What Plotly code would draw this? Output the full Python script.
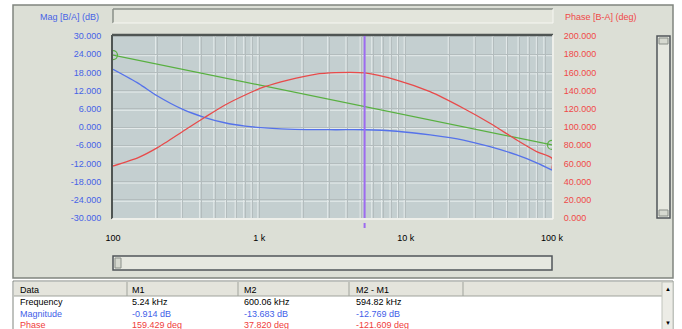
import math
import plotly.graph_objects as go

# ---------------- data ----------------
freq_mag = [100, 150, 200, 300, 420, 580, 800, 1150, 1750, 3300, 5240, 8700,
            14700, 24800, 37700, 57400, 78600, 100000]
mag_db = [19.0, 14.3, 10.3, 5.8, 3.2, 1.4, 0.3, -0.4, -0.8, -0.9, -0.914, -1.4,
          -2.6, -4.3, -6.5, -9.2, -11.8, -14.2]

freq_phase = [100, 150, 200, 310, 425, 583, 800, 1090, 1570, 2400, 3290, 5240,
              8690, 14660, 24770, 37700, 57400, 78600, 100000, 100000]
phase_deg = [57.1, 66.6, 77.0, 96.7, 110.7, 124.2, 135.2, 144.3, 151.6, 157.9,
             159.7, 159.4, 151.6, 138.8, 120.6, 104.1, 85.7, 72.9, 65.6, 54.0]

freq_ref = [100, 100000]
ref_db = [23.7, -5.9]

cursor_freq = 5240

mag_ticks = [-30, -24, -18, -12, -6, 0, 6, 12, 18, 24, 30]
phase_ticks = [0, 20, 40, 60, 80, 100, 120, 140, 160, 180, 200]
freq_ticks = [100, 1000, 10000, 100000]
freq_ticktext = ["100", "1 k", "10 k", "100 k"]

table_header = ["Data", "M1", "M2", "M2 - M1"]
table_rows = [
    ["Frequency", "5.24 kHz", "600.06 kHz", "594.82 kHz"],
    ["Magnitude", "-0.914 dB", "-13.683 dB", "-12.769 dB"],
    ["Phase", "159.429 deg", "37.820 deg", "-121.609 deg"],
]

# ---------------- styling ----------------
W, H = 682, 329
PL, PR, PT, PB = 113, 552, 36, 218
FONT = "Liberation Sans, Arial, sans-serif"
BLUE_TXT = "#4763e6"
RED_TXT = "#f04848"
PANEL = "#dcdfd6"
PLOTBG = "#c4cfd0"
GRID_DARK = "#b3bcbd"
GRID_LIGHT = "#e4eaea"


def X(p):
    return (p - PL) / (PR - PL)


def Y(p):
    return (PB - p) / (PB - PT)


minor_vals = [m * 10 ** d for d in range(2, 5) for m in range(2, 10)]

fig = go.Figure()
fig.add_trace(go.Scatter(x=freq_phase, y=phase_deg, yaxis="y2", mode="lines",
                         line=dict(color="#e84a4a", width=1.3, shape="spline", smoothing=0.7),
                         showlegend=False))
fig.add_trace(go.Scatter(x=freq_mag, y=mag_db, mode="lines",
                         line=dict(color="#5572ea", width=1.3, shape="spline", smoothing=0.7),
                         showlegend=False))
fig.add_trace(go.Scatter(x=freq_ref, y=ref_db, mode="lines+markers",
                         line=dict(color="#58b040", width=1.3),
                         marker=dict(symbol="circle-open", size=9, color="#58b040",
                                     line=dict(width=1.2)),
                         showlegend=False))

shapes = []


def rect(x0, y0, x1, y1, fill, line=None, lw=1):
    shapes.append(dict(type="rect", xref="paper", yref="paper", layer="below",
                       x0=X(x0), x1=X(x1), y0=Y(y1), y1=Y(y0), fillcolor=fill,
                       line=dict(color=line or fill, width=lw if line else 0)))


def hline(x0, x1, y, color, lw=1, layer="below"):
    shapes.append(dict(type="line", xref="paper", yref="paper", layer=layer,
                       x0=X(x0), x1=X(x1), y0=Y(y), y1=Y(y), line=dict(color=color, width=lw)))


def vline(x, y0, y1, color, lw=1, layer="below"):
    shapes.append(dict(type="line", xref="paper", yref="paper", layer=layer,
                       x0=X(x), x1=X(x), y0=Y(y0), y1=Y(y1), line=dict(color=color, width=lw)))


# outer panel
rect(13, 5, 673, 278, PANEL, "#80857f", 1.5)
# plot background
rect(PL, PT, PR, PB, PLOTBG)
# light companion lines of the grooved grid (1 px beside each dark grid line)
for v in freq_ticks[1:-1] + minor_vals:
    px = PL + (math.log10(v) - 2) / 3 * (PR - PL)
    vline(px - 1.5, PT, PB, GRID_LIGHT, 1)
for v in mag_ticks[1:-1]:
    py = PB - (v + 30) / 60 * (PB - PT)
    hline(PL, PR, py + 1.5, GRID_LIGHT, 1)
# inset border of plot
hline(PL - 1, PR + 1, PT - 1, "#4f5553", 2.5)
vline(PL - 1, PT - 1, PB + 1, "#4f5553", 2)
hline(PL - 1, PR + 1, PB + 1, "#f4f5f0", 1.5)
vline(PR + 1, PT - 1, PB + 1, "#f4f5f0", 1.5)
# top text box
rect(113, 9, 553, 23, "#e3e5dc")
hline(113, 553, 9, "#8a8f89", 1.5)
vline(113, 9, 23, "#8a8f89", 1.5)
hline(113, 553, 23, "#f6f7f2", 1)
vline(553, 9, 23, "#f6f7f2", 1)
# right vertical scrollbar
rect(657, 36, 670, 218, "#e6e8e0", "#50565a", 1.5)
rect(659, 38, 668, 44, "#d6d9d0", "#8a8f89", 1)
rect(659, 210, 668, 216, "#d6d9d0", "#8a8f89", 1)
# horizontal scrollbar
rect(113, 256, 552, 270, "#e6e8e0", "#50565a", 1.5)
rect(115, 258, 121, 268, "#d6d9d0", "#8a8f89", 1)
# table
rect(13, 281, 673, 330, "#ffffff", "#80857f", 1)
rect(14, 282, 662, 296, "#e4e4dc")
hline(14, 662, 296, "#a0a39c", 1)
for cx in [127, 238, 349, 463]:
    vline(cx, 282, 296, "#a0a39c", 1)
rect(662, 282, 673, 330, "#ecece6", "#c0c3bc", 1)
# cursor
shapes.append(dict(type="line", xref="x", yref="paper", x0=cursor_freq, x1=cursor_freq,
                   y0=0, y1=1, layer="above", line=dict(color="#9d6bf0", width=2)))
shapes.append(dict(type="line", xref="x", yref="paper", x0=cursor_freq, x1=cursor_freq,
                   y0=Y(223), y1=Y(228), layer="above", line=dict(color="#9d6bf0", width=2)))

ann = []


def text(x, y, s, color="#000000", anchor="left", size=9):
    ann.append(dict(xref="paper", yref="paper", x=X(x), y=Y(y), text=s, showarrow=False,
                    xanchor=anchor, yanchor="middle", font=dict(family=FONT, size=size, color=color)))


text(101, 17, "Mag [B/A] (dB)", BLUE_TXT, "right")
text(563, 17, "Phase [B-A] (deg)", RED_TXT, "left")

col_x = [18, 130, 242, 354]
for cx, h in zip(col_x, table_header):
    text(cx, 289.5, h)
row_colors = ["#000000", "#3f5ee8", "#f03c3c"]
for ry, row, rc in zip([301.5, 313.5, 325], table_rows, row_colors):
    for cx, s in zip(col_x, row):
        text(cx, ry, s, rc)
text(667.5, 289, "▲", "#000000", "center", 6)
text(667.5, 323, "▼", "#000000", "center", 6)

fig.update_layout(
    width=W, height=H,
    margin=dict(l=PL, r=W - PR, t=PT, b=H - PB, pad=0),
    paper_bgcolor="#ffffff", plot_bgcolor="rgba(0,0,0,0)",
    shapes=shapes, annotations=ann,
    xaxis=dict(type="log", range=[2, 5], tickvals=freq_ticks, ticktext=freq_ticktext,
               showgrid=True, gridcolor=GRID_DARK, gridwidth=1, zeroline=False,
               ticks="outside", ticklen=11, tickcolor="rgba(0,0,0,0)",
               tickfont=dict(family=FONT, size=9, color="#000000"),
               minor=dict(tickvals=minor_vals, showgrid=True, gridcolor=GRID_DARK, gridwidth=1,
                          ticks=""),
               showline=False, fixedrange=True),
    yaxis=dict(range=[-30, 30], tickvals=mag_ticks,
               ticktext=[f"{v:.3f}" for v in mag_ticks],
               showgrid=True, gridcolor=GRID_DARK, gridwidth=1, zeroline=False,
               ticks="outside", ticklen=9, tickcolor="rgba(0,0,0,0)",
               tickfont=dict(family=FONT, size=9, color=BLUE_TXT), showline=False,
               fixedrange=True),
    yaxis2=dict(range=[0, 200], tickvals=phase_ticks,
                ticktext=[f"{v:.3f}" for v in phase_ticks],
                overlaying="y", side="right", showgrid=False, zeroline=False,
                ticks="outside", ticklen=9, tickcolor="rgba(0,0,0,0)",
                tickfont=dict(family=FONT, size=9, color=RED_TXT), showline=False,
                fixedrange=True),
)

fig.write_html("out.html", config={"displayModeBar": False},
               post_script="document.body.style.margin='0px';")
